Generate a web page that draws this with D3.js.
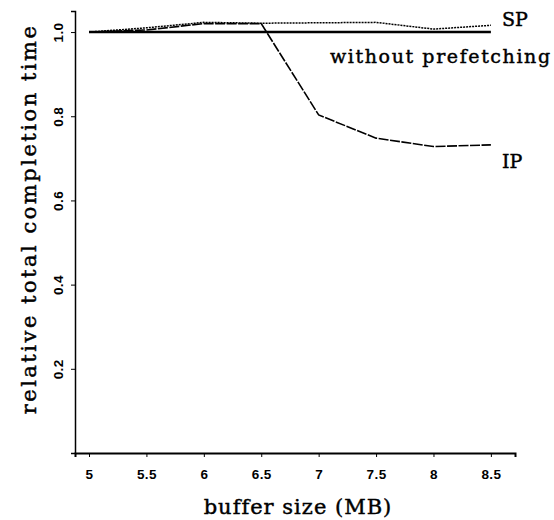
<!DOCTYPE html>
<html>
<head>
<meta charset="utf-8">
<script src="https://cdn.jsdelivr.net/npm/d3@7"></script>
<style>
  body { margin: 0; background: #fff; }
  .tick text { font-family: "Liberation Sans", Arial, sans-serif; font-size: 13.5px; font-weight: bold; letter-spacing: 0.4px; }
  .title { font-family: "DejaVu Serif", serif; fill: #000; stroke: #000; stroke-width: 0.45px; }
</style>
</head>
<body>
<div id="chart"></div>
<script>
// data
var bufferSizes = [5, 5.5, 6, 6.5, 7, 7.5, 8, 8.5];
var withoutPrefetching = [1.0, 1.0, 1.0, 1.0, 1.0, 1.0, 1.0, 1.0];
var spValues = [1.0, 1.01, 1.023, 1.021, 1.022, 1.023, 1.007, 1.016];
var ipValues = [1.0, 1.005, 1.02, 1.02, 0.803, 0.748, 0.728, 0.732];
var xTicks = [5, 5.5, 6, 6.5, 7, 7.5, 8, 8.5];
var yTicks = [0.2, 0.4, 0.6, 0.8, 1.0];

var width = 554, height = 520;

var svg = d3.select("#chart")
  .append("svg")
    .attr("width", width)
    .attr("height", height);

var x = d3.scaleLinear()
  .domain([4.878, 8.71])
  .range([75, 515]);

var y = d3.scaleLinear()
  .domain([0, 1.05])
  .range([453, 11]);

// x-axis
var xAxis = svg.append("g")
  .attr("transform", "translate(0," + y(0) + ")")
  .call(d3.axisBottom(x).tickValues(xTicks).tickFormat(d3.format("")).tickSizeOuter(0).tickSize(4).tickPadding(12));
xAxis.select(".domain").attr("stroke-width", 2);

// y-axis, labels turned sideways
var yAxis = svg.append("g")
  .attr("transform", "translate(" + x.range()[0] + ",0)")
  .call(d3.axisLeft(y).tickValues(yTicks).tickFormat(d3.format(".1f")).tickSizeOuter(0).tickSize(4));
yAxis.select(".domain").attr("stroke-width", 1.5);
yAxis.selectAll(".tick text")
  .attr("x", null)
  .attr("dy", null)
  .attr("transform", "translate(-12,0) rotate(-90)")
  .style("text-anchor", "middle");

var line = d3.line()
  .x(function(d, i) { return x(bufferSizes[i]); })
  .y(function(d) { return y(d); });

// lines
svg.append("path")
  .datum(withoutPrefetching)
  .attr("d", line)
  .attr("fill", "none")
  .attr("stroke", "#000")
  .attr("stroke-width", 2.5);

svg.append("path")
  .datum(spValues)
  .attr("d", line)
  .attr("fill", "none")
  .attr("stroke", "#000")
  .attr("stroke-width", 1.5)
  .attr("stroke-dasharray", "2,1");

svg.append("path")
  .datum(ipValues)
  .attr("d", line)
  .attr("fill", "none")
  .attr("stroke", "#000")
  .attr("stroke-width", 1.6)
  .attr("stroke-dasharray", "10,1.5");

// line labels
var last = bufferSizes.length - 1;
svg.append("text")
  .attr("class", "title")
  .attr("x", x(bufferSizes[last]) + 11)
  .attr("y", y(spValues[last]) + 1)
  .style("font-size", "19px")
  .text("SP");

svg.append("text")
  .attr("class", "title")
  .attr("x", 330)
  .attr("y", y(1.0) + 31)
  .style("font-size", "19px")
  .style("letter-spacing", "1.6px")
  .text("without prefetching");

svg.append("text")
  .attr("class", "title")
  .attr("x", x(bufferSizes[last]) + 11)
  .attr("y", y(ipValues[last]) + 23)
  .style("font-size", "19px")
  .text("IP");

// axis titles
svg.append("text")
  .attr("class", "title")
  .attr("x", 298)
  .attr("y", 514)
  .style("text-anchor", "middle")
  .style("font-size", "21px")
  .style("letter-spacing", "1px")
  .text("buffer size (MB)");

svg.append("text")
  .attr("class", "title")
  .attr("transform", "translate(36,219)rotate(-90)")
  .style("text-anchor", "middle")
  .style("font-size", "21px")
  .style("letter-spacing", "2.5px")
  .text("relative total completion time");
</script>
</body>
</html>
